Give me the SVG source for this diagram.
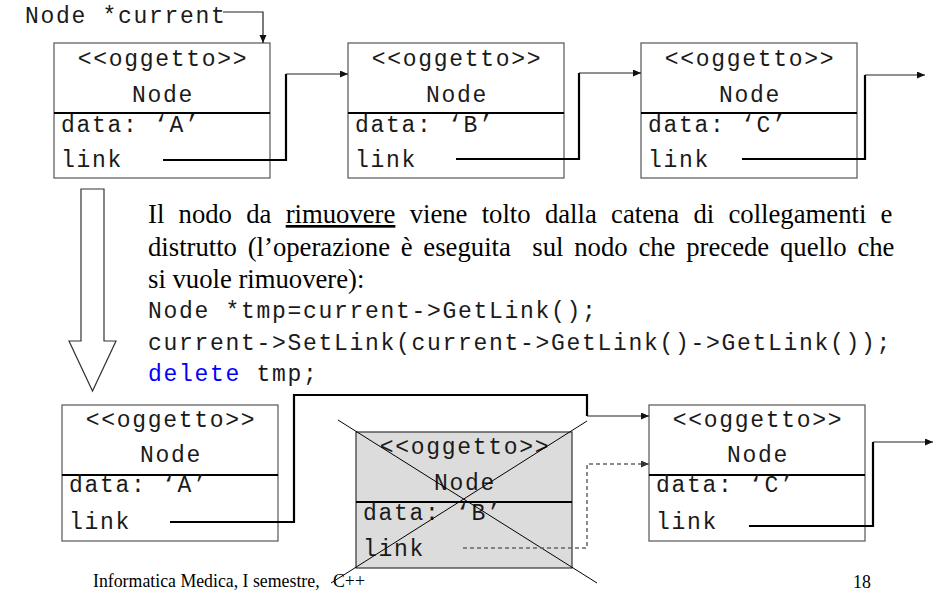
<svg xmlns="http://www.w3.org/2000/svg" width="935" height="595" viewBox="0 0 935 595">
  <style>
    .box { fill: #ffffff; stroke: #555555; stroke-width: 1.2; }
    .dead { fill: #dcdcdc; stroke: #333333; stroke-width: 1.2; }
    .div { stroke: #000000; stroke-width: 2.2; }
    .mono { font-family: "Liberation Mono", "Courier New", monospace; font-size: 23px; letter-spacing: 1.7px; fill: #1a1a1a; }
    .mid { text-anchor: middle; }
    .serif { font-family: "Liberation Serif", "Times New Roman", serif; fill: #000000; }
    .link { fill: none; stroke: #000000; stroke-width: 2.2; }
    .lead { fill: none; stroke: #222222; stroke-width: 1.2; }
    .dash { fill: none; stroke: #666666; stroke-width: 1.5; stroke-dasharray: 4 3; }
    .cross { stroke: #000000; stroke-width: 1; }
    .kw { fill: #0000ff; }
  </style>
  <defs>
    <marker id="head" markerUnits="userSpaceOnUse" markerWidth="9" markerHeight="8" refX="8" refY="3.5" orient="auto">
      <path d="M0,0 L8,3.5 L0,7 z" fill="#111111"/>
    </marker>
    <marker id="headGray" markerUnits="userSpaceOnUse" markerWidth="9" markerHeight="8" refX="8" refY="3.5" orient="auto">
      <path d="M0,0 L8,3.5 L0,7 z" fill="#333333"/>
    </marker>
  </defs>

  <rect width="935" height="595" fill="#ffffff"/>

  <!-- pointer label -->
  <g id="current-label">
    <text class="mono" x="25" y="23">Node *current</text>
  </g>

  <!-- list before removal -->
  <g id="nodeA">
    <rect class="box" x="54" y="43" width="216" height="135"/>
    <line class="div" x1="54" y1="113" x2="270" y2="113"/>
    <text class="mono mid" x="163" y="66">&lt;&lt;oggetto&gt;&gt;</text>
    <text class="mono mid" x="163" y="102">Node</text>
    <text class="mono" x="61" y="132">data: ‘A’</text>
    <text class="mono" x="61" y="167">link</text>
  </g>
  <g id="nodeB">
    <rect class="box" x="348" y="43" width="216" height="135"/>
    <line class="div" x1="348" y1="113" x2="564" y2="113"/>
    <text class="mono mid" x="457" y="66">&lt;&lt;oggetto&gt;&gt;</text>
    <text class="mono mid" x="457" y="102">Node</text>
    <text class="mono" x="355" y="132">data: ‘B’</text>
    <text class="mono" x="355" y="167">link</text>
  </g>
  <g id="nodeC">
    <rect class="box" x="641" y="43" width="216" height="135"/>
    <line class="div" x1="641" y1="113" x2="857" y2="113"/>
    <text class="mono mid" x="750" y="66">&lt;&lt;oggetto&gt;&gt;</text>
    <text class="mono mid" x="750" y="102">Node</text>
    <text class="mono" x="648" y="132">data: ‘C’</text>
    <text class="mono" x="648" y="167">link</text>
  </g>

  <!-- transition arrow -->
  <g id="step-arrow">
    <polygon points="81,189 104,189 104,341 116,341 92.5,391 69,341 81,341" fill="#ffffff" stroke="#333333" stroke-width="1.2"/>
  </g>

  <!-- explanation -->
  <g id="explanation">
    <text class="serif" x="148" y="223" font-size="26.7" word-spacing="7.6">Il nodo da <tspan text-decoration="underline">rimuovere</tspan> viene tolto dalla catena di collegamenti e</text>
    <text class="serif" x="148" y="256" font-size="26.7" word-spacing="4.1" xml:space="preserve">distrutto (l’operazione è eseguita  sul nodo che precede quello che</text>
    <text class="serif" x="148" y="288" font-size="26.7">si vuole rimuovere):</text>
    <text class="mono" x="148" y="318">Node *tmp=current-&gt;GetLink();</text>
    <text class="mono" x="148" y="350">current-&gt;SetLink(current-&gt;GetLink()-&gt;GetLink());</text>
    <text class="mono" x="148" y="381"><tspan class="kw">delete</tspan> tmp;</text>
  </g>

  <!-- list after removal -->
  <g id="nodeA2">
    <rect class="box" x="62" y="405" width="216" height="136"/>
    <line class="div" x1="62" y1="475" x2="278" y2="475"/>
    <text class="mono mid" x="171" y="427">&lt;&lt;oggetto&gt;&gt;</text>
    <text class="mono mid" x="171" y="462">Node</text>
    <text class="mono" x="69" y="492">data: ‘A’</text>
    <text class="mono" x="69" y="529">link</text>
  </g>
  <g id="nodeB2">
    <rect class="dead" x="356" y="432" width="216" height="136"/>
    <line class="div" x1="356" y1="502" x2="572" y2="502"/>
    <text class="mono mid" x="465" y="454">&lt;&lt;oggetto&gt;&gt;</text>
    <text class="mono mid" x="465" y="490">Node</text>
    <text class="mono" x="363" y="520">data: ‘B’</text>
    <text class="mono" x="363" y="556">link</text>
    <line class="cross" x1="338" y1="420" x2="597" y2="583"/>
    <line class="cross" x1="587" y1="421" x2="331" y2="583"/>
  </g>
  <g id="nodeC2">
    <rect class="box" x="649" y="405" width="216" height="136"/>
    <line class="div" x1="649" y1="475" x2="865" y2="475"/>
    <text class="mono mid" x="758" y="427">&lt;&lt;oggetto&gt;&gt;</text>
    <text class="mono mid" x="758" y="462">Node</text>
    <text class="mono" x="656" y="492">data: ‘C’</text>
    <text class="mono" x="656" y="529">link</text>
  </g>

  <!-- links between nodes -->
  <g id="connectors">
    <path class="lead" d="M223,12 H263 V43" marker-end="url(#head)"/>

    <path class="link" d="M163,160 H286 V74"/>
    <path class="lead" d="M286,74 H348" marker-end="url(#head)"/>
    <path class="link" d="M456,159 H579 V73"/>
    <path class="lead" d="M579,73 H641" marker-end="url(#head)"/>
    <path class="link" d="M742,159 H865 V75"/>
    <path class="lead" d="M865,75 H925" marker-end="url(#head)"/>

    <path class="link" d="M170,522 H294 V395 H587 V416"/>
    <path class="lead" d="M587,416 H649" marker-end="url(#head)"/>
    <path class="dash" d="M463,548 H587 V464 H649" marker-end="url(#headGray)"/>
    <path class="link" d="M749,526 H873 V442"/>
    <path class="lead" d="M873,442 H933" marker-end="url(#head)"/>
  </g>

  <!-- footer -->
  <g id="footer">
    <text class="serif" x="93" y="587" font-size="17.8">Informatica Medica, I semestre,</text>
    <text class="serif" x="333" y="587" font-size="17.8">C++</text>
    <text class="serif" x="853" y="588" font-size="17.8">18</text>
  </g>
</svg>
